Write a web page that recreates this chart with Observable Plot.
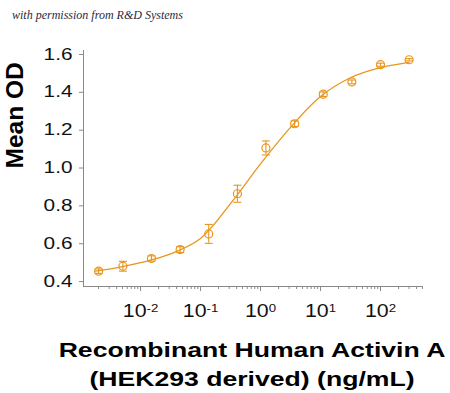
<!DOCTYPE html>
<html><head><meta charset="utf-8">
<script src="https://cdn.jsdelivr.net/npm/d3@7"></script>
<script src="https://cdn.jsdelivr.net/npm/@observablehq/plot@0.6"></script>
<style>
body{margin:0;background:#fff;width:450px;height:393px;overflow:hidden;font-family:"Liberation Sans",Arial,sans-serif;}
#note{height:28px;box-sizing:border-box;padding:9px 0 0 12px;font:italic 12px/13px "Liberation Serif",serif;color:#1f2a44;}
#cap{margin-top:8px;padding-left:54px;width:450px;box-sizing:border-box;text-align:center;font-weight:bold;font-size:20px;line-height:29px;color:#000;transform:scaleX(1.33);transform-origin:252px 50%;}
</style></head><body>
<div id="note">with permission from R&amp;D Systems</div>
<div id="chart"></div>
<div id="cap">Recombinant Human Activin A<br>(HEK293 derived) (ng/mL)</div>
<script>
// Measured points (concentration ng/mL, mean OD, error)
const concentration = [0.002, 0.00508, 0.0152, 0.0457, 0.137, 0.412, 1.23, 3.70, 11.1, 33.3, 100, 300];
const meanOD        = [0.455, 0.481, 0.522, 0.569, 0.652, 0.864, 1.106, 1.234, 1.390, 1.455, 1.546, 1.572];
const errorOD       = [0.012, 0.026, 0.014, 0.015, 0.050, 0.045, 0.037, 0.015, 0.012, 0.010, 0.008, 0.006];
// Fitted curve
const fitConcentration = [0.00178, 0.00316, 0.01, 0.0316, 0.1, 0.316, 1, 3.16, 10, 31.6, 100, 300];
const fitOD            = [0.455, 0.467, 0.500, 0.546, 0.628, 0.812, 1.022, 1.215, 1.378, 1.477, 1.530, 1.558];
// Axes
const yTicks = [0.4, 0.6, 0.8, 1.0, 1.2, 1.4, 1.6];
const xTicks = [0.01, 0.1, 1, 10, 100];
const xTickExponents = ["-2", "-1", "0", "1", "2"];
const xDomain = [0.00112, 521];
const yDomain = [0.374, 1.621];
const xMinorTicks = [];
for (let k = -3; k <= 2; k++) for (let m = 2; m <= 9; m++) {
  const v = m * Math.pow(10, k);
  if (v > xDomain[0] && v < xDomain[1]) xMinorTicks.push(v);
}

const orange = "#E8961E";
const axisGray = "#8a8a8a";
const points = concentration.map((c, i) => ({c, od: meanOD[i], e: errorOD[i]}));
const fit = fitConcentration.map((c, i) => ({c, od: fitOD[i]}));
const cap = {draw(ctx, size) { const r = Math.sqrt(size / Math.PI); ctx.moveTo(-r, 0); ctx.lineTo(r, 0); }};

const chart = Plot.plot({
  width: 450, height: 300,
  marginLeft: 83, marginRight: 27, marginTop: 22, marginBottom: 42,
  style: {fontFamily: "Liberation Sans, Arial, sans-serif", background: "white", color: "#000"},
  x: {type: "log", domain: xDomain},
  y: {domain: yDomain},
  marks: [
    Plot.ruleY([yDomain[0]], {stroke: axisGray}),
    Plot.ruleX([xDomain[0]], {stroke: axisGray}),
    Plot.axisY({ticks: yTicks, tickSize: 4, tickPadding: 7, tickFormat: d => d.toFixed(1), fontSize: 16, label: null, stroke: axisGray, fill: "#111"}),
    Plot.axisX({ticks: xMinorTicks, tickSize: 3, tickFormat: () => "", label: null, stroke: axisGray}),
    Plot.axisX({ticks: xTicks, tickSize: 5, tickPadding: 13, tickFormat: (d) => xTickExponents[xTicks.indexOf(d)], fontSize: 17.5, label: null, stroke: axisGray, fill: "#111"}),
    Plot.text(["Mean OD"], {text: d => d, frameAnchor: "left", dx: -68, rotate: -90, fontSize: 24.5, fontWeight: "bold", fill: "#000"}),
    Plot.line(fit, {x: "c", y: "od", stroke: orange, strokeWidth: 1.3, curve: "catmull-rom"}),
    Plot.ruleX(points, {x: "c", y1: d => d.od - d.e, y2: d => d.od + d.e, stroke: orange, strokeWidth: 1.1}),
    Plot.dot(points, {x: "c", y: d => d.od + d.e, symbol: cap, r: 4, stroke: orange, strokeWidth: 1.1}),
    Plot.dot(points, {x: "c", y: d => d.od - d.e, symbol: cap, r: 4, stroke: orange, strokeWidth: 1.1}),
    Plot.dot(points, {x: "c", y: "od", r: 4, stroke: orange, fill: "none", strokeWidth: 1.2})
  ]
});
document.getElementById("chart").appendChild(chart);

// widen text horizontally like the reference
function stretch(el, s) {
  const x = +(el.getAttribute("x") || 0);
  const t = el.getAttribute("transform") || "";
  el.setAttribute("transform", `${t} translate(${x},0) scale(${s},1) translate(${-x},0)`);
}
// superscript exponents on x tick labels
d3.select(chart).selectAll('g[aria-label="x-axis tick label"] text').each(function() {
  const e = this.textContent;
  if (!e) return;
  const t = d3.select(this);
  t.text("");
  t.append("tspan").text("10");
  t.append("tspan").attr("dy", "-0.42em").attr("font-size", "0.62em").text(e);
  stretch(this, 1.22);
});
d3.select(chart).selectAll('g[aria-label="y-axis tick label"] text').each(function() { stretch(this, 1.3); });
</script>
</body></html>
